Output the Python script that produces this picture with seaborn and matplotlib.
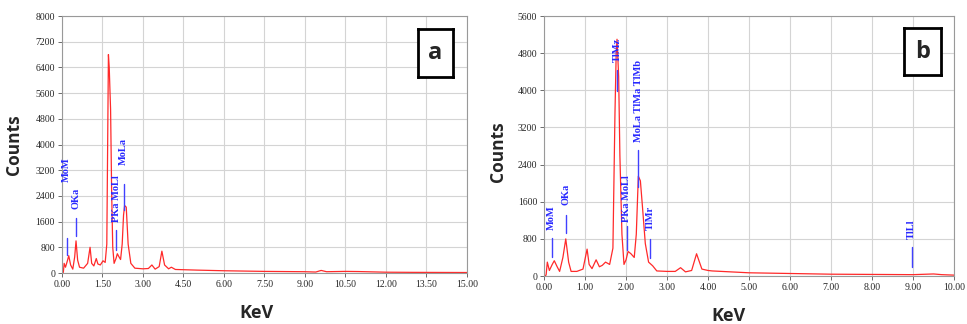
import numpy as np
import pandas as pd
import matplotlib.pyplot as plt
import seaborn as sns
from matplotlib.ticker import FormatStrFormatter

# Spectrum a (energy in keV, counts)
energy_a = [0.0, 0.05, 0.08, 0.13, 0.2, 0.25, 0.32, 0.4, 0.47, 0.52, 0.58, 0.65, 0.8, 0.95,
            1.04, 1.1, 1.18, 1.27, 1.33, 1.42, 1.52, 1.6, 1.66, 1.72, 1.75, 1.78, 1.8, 1.84,
            1.88, 1.93, 2.0, 2.05, 2.1, 2.17, 2.23, 2.28, 2.32, 2.38, 2.45, 2.55, 2.7, 3.0,
            3.2, 3.33, 3.45, 3.6, 3.7, 3.8, 3.95, 4.05, 4.2, 5.0, 6.0, 7.5, 9.0, 9.4, 9.6,
            9.8, 10.5, 11.0, 12.0, 13.0, 15.0]
counts_a = [0, 20, 300, 180, 380, 540, 250, 120, 500, 1000, 400, 180, 150, 300,
            800, 300, 220, 450, 280, 250, 380, 330, 900, 6800, 6400, 5600, 5100, 2500,
            800, 300, 450, 600, 520, 420, 900, 1800, 2100, 2050, 900, 300, 150, 130,
            140, 250, 120, 200, 680, 250, 130, 180, 110, 90, 70, 50, 40, 30, 80,
            40, 50, 45, 25, 20, 15]

# Spectrum b
energy_b = [0.0, 0.05, 0.08, 0.13, 0.2, 0.25, 0.32, 0.38, 0.46, 0.53, 0.6, 0.66, 0.8, 0.95,
            1.05, 1.1, 1.17, 1.27, 1.35, 1.42, 1.5, 1.6, 1.68, 1.73, 1.76, 1.78, 1.82, 1.85,
            1.9, 1.95, 2.0, 2.05, 2.12, 2.2, 2.25, 2.3, 2.35, 2.4, 2.47, 2.55, 2.65, 2.75,
            3.0, 3.2, 3.33, 3.45, 3.6, 3.72, 3.85, 4.0, 4.1, 5.0, 6.0, 7.0, 8.0, 9.0, 9.5,
            9.7, 10.0]
counts_b = [0, 20, 300, 120, 250, 330, 200, 100, 400, 800, 300, 100, 100, 150,
            580, 250, 160, 350, 200, 230, 300, 250, 600, 3500, 4800, 5100, 4300, 2600,
            900, 250, 350, 530, 480, 400, 900, 2150, 2050, 1500, 700, 300, 220, 110,
            100, 100, 180, 90, 120, 480, 150, 120, 110, 70, 55, 40, 35, 30, 45,
            30, 20]

# Peak labels: (text, energy, line bottom, line top, text bottom)
labels_a = [("MoM", 0.17, 550, 1100, 2830),
            ("OKa", 0.53, 1140, 1720, 2000),
            ("PKa MoLl", 2.01, 730, 1350, 1590),
            ("MoLa", 2.28, 1950, 2760, 3350)]
labels_b = [("MoM", 0.19, 415, 810, 990),
            ("OKa", 0.54, 920, 1310, 1530),
            ("TlMz", 1.78, 3990, 4430, 4610),
            ("PKa MoLl", 2.02, 570, 1075, 1170),
            ("MoLa TlMa TlMb", 2.30, 1920, 2720, 2890),
            ("TlMr", 2.59, 380, 790, 990),
            ("TlLl", 8.97, 200, 615, 790)]

sns.set_style("whitegrid")
plt.rcParams['font.family'] = ['Liberation Serif', 'DejaVu Serif']

fig = plt.figure(figsize=(9.67, 3.24), dpi=100)

panels = [
    dict(pos=[0.0641, 0.1574, 0.4188, 0.7932], x=energy_a, y=counts_a, labels=labels_a,
         xmax=15.0, xstep=1.5, ymax=8000, tag="a", box=[418, 29, 35, 48],
         xl=(0.48, -0.122), yl=(-0.097, 0.498)),
    dict(pos=[0.5626, 0.148, 0.424, 0.8025], x=energy_b, y=counts_b, labels=labels_b,
         xmax=10.0, xstep=1.0, ymax=5600, tag="b", box=[904, 28, 37, 47],
         xl=(0.449, -0.12), yl=(-0.09, 0.477)),
]

for p in panels:
    ax = fig.add_axes(p['pos'])
    df = pd.DataFrame({'KeV': p['x'], 'Counts': p['y']})
    sns.lineplot(data=df, x='KeV', y='Counts', ax=ax, color='#ff2a2a', linewidth=0.9)

    ax.set_xlim(0, p['xmax'])
    ax.set_ylim(0, p['ymax'])
    ax.set_xticks(np.arange(0, p['xmax'] + 0.001, p['xstep']))
    ax.set_yticks(np.arange(0, p['ymax'] + 1, 800))
    ax.xaxis.set_major_formatter(FormatStrFormatter('%.2f'))
    ax.tick_params(labelsize=7, length=3, width=0.6, color='#555555', pad=2,
                   bottom=True, left=True)
    ax.grid(True, color='#d4d4d4', linewidth=0.8)
    for s in ax.spines.values():
        s.set_color('#999999')
        s.set_linewidth(0.8)

    ax.set_xlabel('KeV', fontsize=13, fontweight='bold', family='Open Sans')
    ax.set_ylabel('Counts', fontsize=12.5, fontweight='bold', family='Open Sans')
    ax.xaxis.set_label_coords(*p['xl'])
    ax.yaxis.set_label_coords(*p['yl'])

    for text, e, lo, hi, tb in p['labels']:
        ax.plot([e, e], [lo, hi], color='#4040ff', linewidth=1.0)
        ax.text(e, tb, text, rotation=90, ha='center', va='bottom', color='#2828ff',
                fontsize=7.5, fontweight='bold')

    # framed panel letter
    bx, by, bw, bh = p['box']
    tag = fig.add_axes([bx / 967, 1 - (by + bh) / 324, bw / 967, bh / 324])
    tag.set_xticks([])
    tag.set_yticks([])
    tag.set_facecolor('white')
    for s in tag.spines.values():
        s.set_color('black')
        s.set_linewidth(2)
    tag.text(0.5, 0.5, p['tag'], ha='center', va='center', fontsize=17,
             fontweight='bold', family='Open Sans', transform=tag.transAxes)

fig.savefig('out.png', dpi=100)
